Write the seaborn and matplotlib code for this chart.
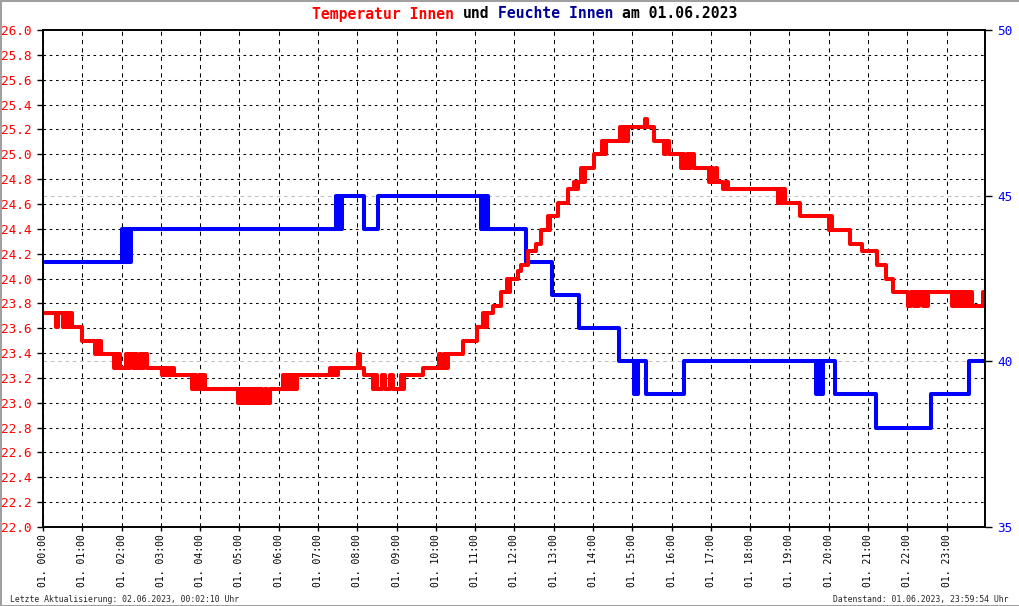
import matplotlib
matplotlib.use("Agg")
import matplotlib.pyplot as plt
import numpy as np
import seaborn as sns
from matplotlib.ticker import FixedLocator, FormatStrFormatter

sns.set_style("ticks")
plt.rcParams.update({'font.family': 'DejaVu Sans Mono',
                     'axes.edgecolor': 'black',
                     'axes.linewidth': 1.2,
                     'xtick.color': 'black',
                     'ytick.color': 'black'})

# hours of the day (step changes) and temperature in degC
temp_hours = [0.06, 0.34, 0.38, 0.50, 0.55, 0.60, 0.64, 0.68, 0.71, 0.75,
              1.00, 1.33, 1.37, 1.41, 1.44, 1.48, 1.81, 1.85, 1.89, 1.93, 1.97,
              2.12, 2.16, 2.22, 2.28, 2.33, 2.40, 2.46, 2.52, 2.57, 2.65,
              3.03, 3.07, 3.12, 3.18, 3.24, 3.29, 3.34, 3.79, 3.84, 3.90, 3.97,
              4.04, 4.08, 4.12, 4.96, 5.02, 5.06, 5.12, 5.16, 5.22, 5.26, 5.32,
              5.36, 5.42, 5.47, 5.53, 5.57, 5.65, 5.70, 5.77,
              6.10, 6.14, 6.18, 6.23, 6.27, 6.32, 6.37, 6.41, 6.46,
              7.30, 7.35, 7.40, 7.46, 7.52, 8.02, 8.08, 8.18, 8.41, 8.45, 8.49,
              8.62, 8.70, 8.83, 8.91, 9.12, 9.15, 9.20, 9.68,
              10.09, 10.14, 10.20, 10.25, 10.30, 10.69, 11.05, 11.21, 11.25,
              11.31, 11.45, 11.66, 11.82, 11.86, 11.90, 12.09, 12.17, 12.35,
              12.55, 12.68, 12.85, 12.88, 12.91, 13.10, 13.36, 13.52, 13.56,
              13.62, 13.69, 13.74, 13.79, 14.02, 14.24, 14.28, 14.33, 14.69,
              14.74, 14.80, 14.85, 14.89, 15.33, 15.37, 15.55, 15.80, 15.85,
              15.93, 16.23, 16.28, 16.33, 16.39, 16.45, 16.50, 16.56, 16.95,
              17.00, 17.06, 17.12, 17.17, 17.32, 17.38, 17.44, 18.71, 18.76,
              18.82, 18.86, 18.90, 19.28, 20.00, 20.04, 20.08, 20.55, 20.85,
              21.23, 21.46, 21.65, 22.03, 22.09, 22.16, 22.22, 22.27, 22.31,
              22.39, 22.45, 22.50, 22.54, 23.13, 23.16, 23.21, 23.24, 23.27,
              23.30, 23.33, 23.37, 23.41, 23.45, 23.49, 23.53, 23.57, 23.62,
              23.66, 23.93, 23.98]
temp_values = [23.72, 23.61, 23.72, 23.61, 23.72, 23.61, 23.72, 23.61, 23.72, 23.61,
               23.50, 23.39, 23.50, 23.39, 23.50, 23.39, 23.28, 23.39, 23.28, 23.39, 23.28,
               23.39, 23.28, 23.39, 23.28, 23.39, 23.28, 23.39, 23.28, 23.39, 23.28,
               23.22, 23.28, 23.22, 23.28, 23.22, 23.28, 23.22, 23.11, 23.22, 23.11, 23.22,
               23.11, 23.22, 23.11, 23.00, 23.11, 23.00, 23.11, 23.00, 23.11, 23.00, 23.11,
               23.00, 23.11, 23.00, 23.11, 23.00, 23.11, 23.00, 23.11,
               23.22, 23.11, 23.22, 23.11, 23.22, 23.11, 23.22, 23.11, 23.22,
               23.28, 23.22, 23.28, 23.22, 23.28, 23.39, 23.28, 23.22, 23.11, 23.22, 23.11,
               23.22, 23.11, 23.22, 23.11, 23.22, 23.11, 23.22, 23.28,
               23.39, 23.28, 23.39, 23.28, 23.39, 23.50, 23.61, 23.72, 23.61,
               23.72, 23.78, 23.89, 24.00, 23.89, 24.00, 24.06, 24.11, 24.22,
               24.28, 24.39, 24.50, 24.39, 24.50, 24.61, 24.72, 24.78, 24.72,
               24.78, 24.89, 24.78, 24.89, 25.00, 25.11, 25.00, 25.11, 25.22,
               25.11, 25.22, 25.11, 25.22, 25.28, 25.22, 25.11, 25.00, 25.11,
               25.00, 24.89, 25.00, 24.89, 25.00, 24.89, 25.00, 24.89, 24.78,
               24.89, 24.78, 24.89, 24.78, 24.72, 24.78, 24.72, 24.61, 24.72,
               24.61, 24.72, 24.61, 24.50, 24.39, 24.50, 24.39, 24.28, 24.22,
               24.11, 24.00, 23.89, 23.78, 23.89, 23.78, 23.89, 23.78, 23.89,
               23.78, 23.89, 23.78, 23.89, 23.78, 23.89, 23.78, 23.89, 23.78,
               23.89, 23.78, 23.89, 23.78, 23.89, 23.78, 23.89, 23.78, 23.89,
               23.78, 23.89, 23.89]

# humidity in %
hum_hours = [0.06, 2.02, 2.05, 2.09, 2.13, 2.17, 2.20, 2.24,
             7.47, 7.50, 7.53, 7.57, 7.60, 8.16, 8.54,
             11.16, 11.20, 11.24, 11.28, 11.33, 12.30, 12.96, 13.64, 14.67,
             15.05, 15.08, 15.11, 15.14, 15.34, 16.32,
             19.69, 19.73, 19.77, 19.81, 19.84, 19.86, 20.15, 21.20, 22.60,
             23.58, 23.98]
hum_values = [43, 44, 43, 44, 43, 44, 43, 44,
              45, 44, 45, 44, 45, 44, 45,
              44, 45, 44, 45, 44, 43, 42, 41, 40,
              39, 40, 39, 40, 39, 40,
              39, 40, 39, 40, 39, 40, 39, 38, 39,
              40, 40]

hour_ticks = list(range(0, 24))
hour_labels = ["01. %02d:00" % h for h in hour_ticks]
temp_ticks = np.arange(22.0, 26.01, 0.2)
hum_ticks = [35, 40, 45, 50]

fig = plt.figure(figsize=(10.2, 6.06), dpi=100)
fig.patch.set_edgecolor('#a0a0a0')
fig.patch.set_linewidth(2)
ax = fig.add_axes([43/1020, 79/606, 942/1020, 497/606])
ax2 = ax.twinx()

# humidity below, temperature on top
sns.lineplot(x=hum_hours, y=hum_values, ax=ax, color='#0000ff', lw=2.9,
             drawstyle='steps-post', estimator=None, sort=False)
sns.lineplot(x=temp_hours, y=temp_values, ax=ax2, color='#ff0000', lw=2.9,
             drawstyle='steps-post', estimator=None, sort=False)

ax.set_xlim(temp_hours[0], temp_hours[-1])
ax.set_ylim(35, 50)
ax2.set_ylim(22, 26)
ax.set(xlabel='', ylabel='')
ax2.set(xlabel='', ylabel='')

# swap sides: humidity on the right, temperature on the left
ax.yaxis.tick_right()
ax2.yaxis.tick_left()

ax.set_xticks(hour_ticks)
ax.set_xticklabels(hour_labels)
ax.tick_params(axis='x', length=3, width=1, pad=2, labelsize=7, labelrotation=90)

ax.set_yticks(hum_ticks)
# horizontal grid matching the temperature ticks (0.2 degC = 0.75 %)
ax.yaxis.set_minor_locator(FixedLocator(np.linspace(35, 50, 21)))
ax.tick_params(axis='y', which='major', length=5, width=1, pad=4,
               labelsize=9.2, labelcolor='#0000ff')
ax.tick_params(axis='y', which='minor', length=0)

ax2.set_yticks(temp_ticks)
ax2.yaxis.set_major_formatter(FormatStrFormatter('%.1f'))
ax2.tick_params(axis='y', length=4, width=1, pad=4.5, labelsize=9.2,
                labelcolor='#ff0000')

ax.set_axisbelow(True)
ax.grid(which='minor', axis='y', color='black', lw=0.75, linestyle=(0, (2.5, 3.5)))
ax.grid(which='major', axis='y', color='#c0c0c0', lw=0.75, linestyle=(0, (3.5, 3.5)))
ax.grid(which='major', axis='x', color='black', lw=0.75, linestyle=(0, (4, 4)))

# title with coloured words (monospace, so fixed advance per character)
adv = 0.602 * 10.6 * 100 / 72
x0 = 312
parts = [("Temperatur Innen", '#ff0000', 0), ("und", 'black', 17),
         ("Feuchte Innen", '#000099', 21), ("am 01.06.2023", 'black', 35)]
for txt, col, n in parts:
    fig.text((x0 + n * adv) / 1020, 1 - 18.5 / 606, txt, color=col,
             fontsize=10.6, fontweight='bold', va='baseline', ha='left')

fig.text(10 / 1020, 1 - 602 / 606, "Letzte Aktualisierung: 02.06.2023, 00:02:10 Uhr",
         fontsize=5.9, va='baseline', ha='left')
fig.text(1009 / 1020, 1 - 602 / 606, "Datenstand: 01.06.2023, 23:59:54 Uhr",
         fontsize=5.9, va='baseline', ha='right')

fig.savefig("out.png", dpi=100, edgecolor=fig.get_edgecolor())
